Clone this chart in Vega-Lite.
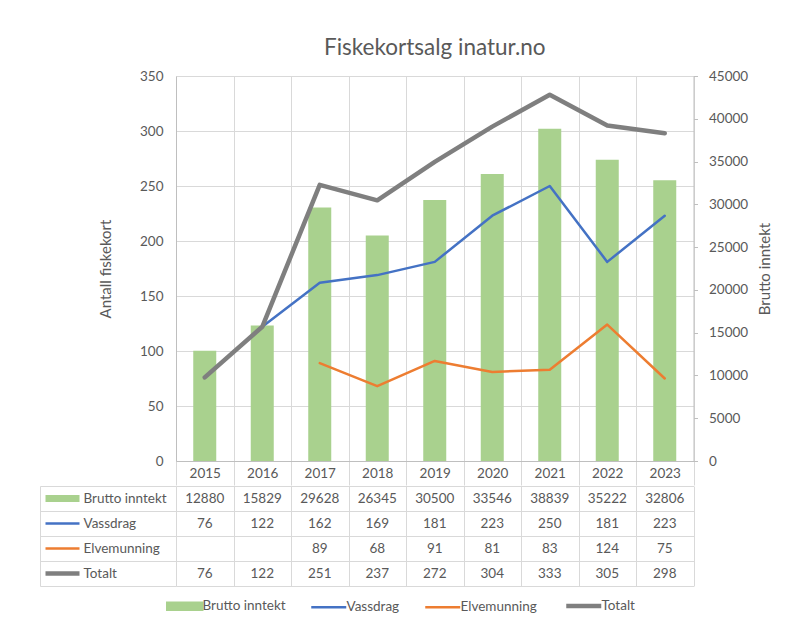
{
  "$schema": "https://vega.github.io/schema/vega-lite/v6.json",
  "background": "white",
  "padding": {"left": 39, "top": 37, "right": 10, "bottom": 5},
  "spacing": -8,
  "datasets": {
    "rows": [
      {"year": "2015", "series": "Brutto inntekt", "value": 12880},
      {"year": "2016", "series": "Brutto inntekt", "value": 15829},
      {"year": "2017", "series": "Brutto inntekt", "value": 29628},
      {"year": "2018", "series": "Brutto inntekt", "value": 26345},
      {"year": "2019", "series": "Brutto inntekt", "value": 30500},
      {"year": "2020", "series": "Brutto inntekt", "value": 33546},
      {"year": "2021", "series": "Brutto inntekt", "value": 38839},
      {"year": "2022", "series": "Brutto inntekt", "value": 35222},
      {"year": "2023", "series": "Brutto inntekt", "value": 32806},
      {"year": "2015", "series": "Vassdrag", "value": 76},
      {"year": "2016", "series": "Vassdrag", "value": 122},
      {"year": "2017", "series": "Vassdrag", "value": 162},
      {"year": "2018", "series": "Vassdrag", "value": 169},
      {"year": "2019", "series": "Vassdrag", "value": 181},
      {"year": "2020", "series": "Vassdrag", "value": 223},
      {"year": "2021", "series": "Vassdrag", "value": 250},
      {"year": "2022", "series": "Vassdrag", "value": 181},
      {"year": "2023", "series": "Vassdrag", "value": 223},
      {"year": "2017", "series": "Elvemunning", "value": 89},
      {"year": "2018", "series": "Elvemunning", "value": 68},
      {"year": "2019", "series": "Elvemunning", "value": 91},
      {"year": "2020", "series": "Elvemunning", "value": 81},
      {"year": "2021", "series": "Elvemunning", "value": 83},
      {"year": "2022", "series": "Elvemunning", "value": 124},
      {"year": "2023", "series": "Elvemunning", "value": 75},
      {"year": "2015", "series": "Totalt", "value": 76},
      {"year": "2016", "series": "Totalt", "value": 122},
      {"year": "2017", "series": "Totalt", "value": 251},
      {"year": "2018", "series": "Totalt", "value": 237},
      {"year": "2019", "series": "Totalt", "value": 272},
      {"year": "2020", "series": "Totalt", "value": 304},
      {"year": "2021", "series": "Totalt", "value": 333},
      {"year": "2022", "series": "Totalt", "value": 305},
      {"year": "2023", "series": "Totalt", "value": 298}
    ]
  },
  "data": {"name": "rows"},
  "vconcat": [
    {
      "width": 517.5,
      "height": 385,
      "title": {"text": "Fiskekortsalg inatur.no", "font": "Lato", "fontSize": 22.5, "fontWeight": "normal", "color": "#595959", "anchor": "middle", "frame": "group", "offset": 9.5},
      "encoding": {
        "x": {
          "field": "year", "type": "nominal",
          "scale": {"type": "band", "paddingInner": 0, "paddingOuter": 0},
          "axis": {"title": null, "labelAngle": 0, "tickBand": "extent", "grid": true, "gridColor": "#d9d9d9", "ticks": true, "tickSize": 24, "tickColor": "#d9d9d9", "domainColor": "#bfbfbf", "labelFont": "Lato", "labelFontSize": 13.5, "labelColor": "#595959", "labelPadding": -8, "labelBaseline": "alphabetic"}
        },
        "color": {
          "field": "series", "type": "nominal",
          "scale": {"domain": ["Brutto inntekt", "Vassdrag", "Elvemunning", "Totalt"], "range": ["#a9d18e", "#4472c4", "#ed7d31", "#7f7f7f"]},
          "legend": {
            "orient": "none", "legendX": 2, "legendY": 523, "direction": "horizontal", "title": null,
            "symbolSize": 1225, "symbolType": "stroke", "symbolStrokeWidth": 2.5,
            "labelFont": "Lato", "labelFontSize": 13.5, "labelColor": "#595959", "labelOffset": 11, "columnPadding": 20,
            "encode": {"symbols": {"update": {
              "shape": {"signal": "datum.value === 'Brutto inntekt' ? 'M-1,-0.2H1V0.2H-1Z' : 'stroke'"},
              "fill": {"signal": "datum.value === 'Brutto inntekt' ? '#a9d18e' : 'transparent'"},
              "stroke": {"signal": "datum.value === 'Brutto inntekt' ? 'transparent' : datum.value === 'Vassdrag' ? '#4472c4' : datum.value === 'Elvemunning' ? '#ed7d31' : '#7f7f7f'"},
              "strokeWidth": {"signal": "datum.value === 'Totalt' ? 4.5 : 2.5"},
              "opacity": {"value": 1}
            }}}
          }
        }
      },
      "layer": [
        {
          "transform": [{"filter": "datum.series === 'Brutto inntekt'"}],
          "mark": {"type": "bar", "width": {"band": 0.4}},
          "encoding": {
            "y": {
              "field": "value", "type": "quantitative",
              "scale": {"domain": [0, 45000], "nice": false},
              "axis": {"orient": "right", "title": "Brutto inntekt", "values": [0, 5000, 10000, 15000, 20000, 25000, 30000, 35000, 40000, 45000], "format": "d", "grid": false, "domainColor": "#bfbfbf", "ticks": true, "tickSize": 4, "tickColor": "#bfbfbf", "labelPadding": 11, "labelFont": "Lato", "labelFontSize": 13.5, "labelColor": "#595959", "titleFont": "Lato", "titleFontSize": 15, "titleFontWeight": "normal", "titleColor": "#595959", "titleAngle": 270, "titleBaseline": "top", "titlePadding": 10}
            }
          }
        },
        {
          "encoding": {
            "y": {
              "field": "value", "type": "quantitative",
              "scale": {"domain": [0, 350], "nice": false},
              "axis": {"orient": "left", "title": "Antall fiskekort", "values": [0, 50, 100, 150, 200, 250, 300, 350], "grid": true, "gridColor": "#d9d9d9", "domainColor": "#bfbfbf", "ticks": false, "labelPadding": 13, "labelFont": "Lato", "labelFontSize": 13.5, "labelColor": "#595959", "titleFont": "Lato", "titleFontSize": 15, "titleFontWeight": "normal", "titleColor": "#595959", "titlePadding": 26}
            }
          },
          "layer": [
            {
              "transform": [{"filter": "datum.series === 'Vassdrag' || datum.series === 'Elvemunning'"}],
              "mark": {"type": "line", "strokeWidth": 2.5, "strokeJoin": "round", "strokeCap": "round"}
            },
            {
              "transform": [{"filter": "datum.series === 'Totalt'"}],
              "mark": {"type": "line", "strokeWidth": 4.5, "strokeJoin": "round", "strokeCap": "round"}
            }
          ]
        }
      ],
      "resolve": {"scale": {"y": "independent"}}
    },
    {
      "width": 517.5,
      "height": 100,
      "encoding": {
        "x": {
          "field": "year", "type": "nominal",
          "scale": {"type": "band", "paddingInner": 0, "paddingOuter": 0},
          "axis": {"orient": "top", "title": null, "labels": false, "ticks": false, "domain": false, "grid": true, "gridColor": "#d9d9d9", "tickBand": "extent"}
        }
      },
      "layer": [
        {
          "mark": {"type": "text", "font": "Lato", "fontSize": 13.5, "color": "#595959"},
          "encoding": {
            "y": {
              "field": "series", "type": "nominal",
              "scale": {"type": "band", "domain": ["Brutto inntekt", "Vassdrag", "Elvemunning", "Totalt"], "paddingInner": 0, "paddingOuter": 0},
              "axis": {"orient": "left", "title": null, "domain": false, "grid": true, "gridColor": "#d9d9d9", "tickBand": "extent", "ticks": true, "tickSize": 136, "tickColor": "#d9d9d9", "labelAlign": "left", "labelPadding": -43, "labelFont": "Lato", "labelFontSize": 13.5, "labelColor": "#595959"}
            },
            "text": {"field": "value", "type": "quantitative", "format": "d"}
          }
        },
        {
          "mark": {"type": "text", "opacity": 0},
          "encoding": {
            "y": {
              "field": "series", "type": "nominal",
              "scale": {"type": "band", "domain": ["Brutto inntekt", "Vassdrag", "Elvemunning", "Totalt"], "paddingInner": 0, "paddingOuter": 0},
              "axis": {"orient": "left", "offset": 97, "title": null, "domain": false, "grid": false, "labels": false, "ticks": true, "tickSize": 34,
                "tickWidth": {"condition": [{"test": "datum.value === 'Brutto inntekt'", "value": 7}, {"test": "datum.value === 'Totalt'", "value": 4.5}], "value": 2.5},
                "tickColor": {"condition": [{"test": "datum.value === 'Brutto inntekt'", "value": "#a9d18e"}, {"test": "datum.value === 'Vassdrag'", "value": "#4472c4"}, {"test": "datum.value === 'Elvemunning'", "value": "#ed7d31"}], "value": "#7f7f7f"}
              }
            }
          }
        },
        {
          "mark": {"type": "text", "opacity": 0},
          "encoding": {
            "y": {
              "field": "series", "type": "nominal",
              "scale": {"type": "band", "domain": ["Brutto inntekt", "Vassdrag", "Elvemunning", "Totalt"], "paddingInner": 0, "paddingOuter": 0},
              "axis": {"orient": "left", "offset": 136, "title": null, "domain": true, "domainColor": "#d9d9d9", "grid": false, "labels": false, "ticks": false}
            }
          }
        }
      ],
      "resolve": {"scale": {"y": "independent"}}
    }
  ],
  "config": {"view": {"stroke": null}, "font": "Lato"}
}
